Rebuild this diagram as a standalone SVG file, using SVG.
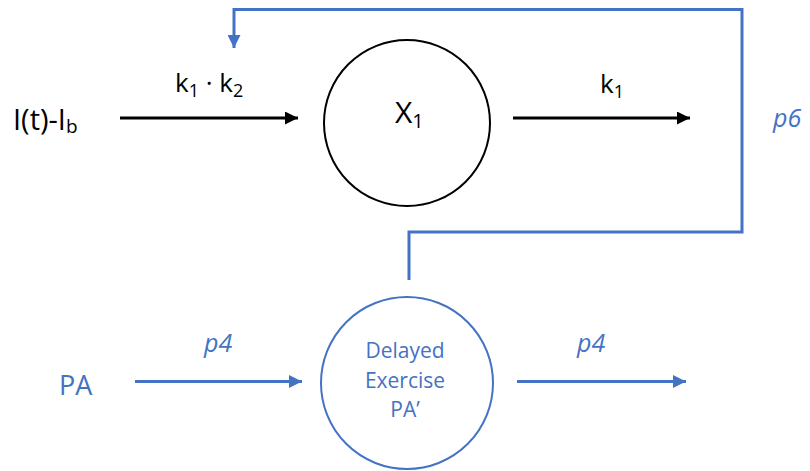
<svg xmlns="http://www.w3.org/2000/svg" width="810" height="471" viewBox="0 0 810 471">
  <style>
    .t { font-family: "Open Sans", "Liberation Sans", sans-serif; fill: #000; }
    .b { font-family: "Open Sans", "Liberation Sans", sans-serif; fill: #4472C4; }
    .i { font-style: italic; }
    .blk { stroke: #000; stroke-width: 3; fill: none; }
    .blu { stroke: #4472C4; stroke-width: 3; fill: none; }
  </style>
  <defs>
    <marker id="ah-black" markerUnits="userSpaceOnUse" markerWidth="14" markerHeight="13" refX="13" refY="6.5" orient="auto">
      <path d="M0,0 L13,6.5 L0,13 z" fill="#000"/>
    </marker>
    <marker id="ah-blue" markerUnits="userSpaceOnUse" markerWidth="14" markerHeight="13" refX="13" refY="6.5" orient="auto">
      <path d="M0,0 L13,6.5 L0,13 z" fill="#4472C4"/>
    </marker>
  </defs>
  <rect width="810" height="471" fill="#fff"/>

  <g id="connectors">
    <line class="blk" x1="120" y1="118" x2="298" y2="118" marker-end="url(#ah-black)"/>
    <line class="blk" x1="513" y1="118" x2="690" y2="118" marker-end="url(#ah-black)"/>
    <line class="blu" x1="135" y1="381.5" x2="302" y2="381.5" marker-end="url(#ah-blue)"/>
    <line class="blu" x1="517" y1="381.5" x2="686" y2="381.5" marker-end="url(#ah-blue)"/>
    <polyline class="blu" points="409,280 409,232 742,232 742,9.5 234,9.5 234,48" marker-end="url(#ah-blue)"/>
  </g>

  <g id="label-input">
    <text class="t" x="13" y="130" font-size="29">I(t)-I<tspan font-size="19" dy="3">b</tspan></text>
  </g>
  <g id="label-k1k2">
    <text class="t" x="175" y="92" font-size="26">k<tspan font-size="18" dy="5">1</tspan><tspan dy="-5"> · k</tspan><tspan font-size="18" dy="5">2</tspan></text>
  </g>
  <g id="node-x1">
    <circle cx="407" cy="123" r="83" fill="#fff" stroke="#000" stroke-width="2"/>
    <text class="t" x="395" y="123" font-size="30">X<tspan font-size="20" dy="5">1</tspan></text>
  </g>
  <g id="label-k1">
    <text class="t" x="600" y="93" font-size="26">k<tspan font-size="18" dy="5">1</tspan></text>
  </g>
  <g id="label-p6">
    <text class="b i" x="773" y="127" font-size="25">p6</text>
  </g>
  <g id="label-pa">
    <text class="b" x="59" y="395" font-size="27">PA</text>
  </g>
  <g id="label-p4-in">
    <text class="b i" x="204" y="352" font-size="25">p4</text>
  </g>
  <g id="node-delayed">
    <circle cx="407" cy="383" r="86" fill="#fff" stroke="#4472C4" stroke-width="2"/>
    <text class="b" x="405" y="358" font-size="21" text-anchor="middle">Delayed</text>
    <text class="b" x="405" y="388" font-size="21" text-anchor="middle">Exercise</text>
    <text class="b" x="405" y="417" font-size="21" text-anchor="middle">PA’</text>
  </g>
  <g id="label-p4-out">
    <text class="b i" x="577" y="352" font-size="25">p4</text>
  </g>
</svg>
